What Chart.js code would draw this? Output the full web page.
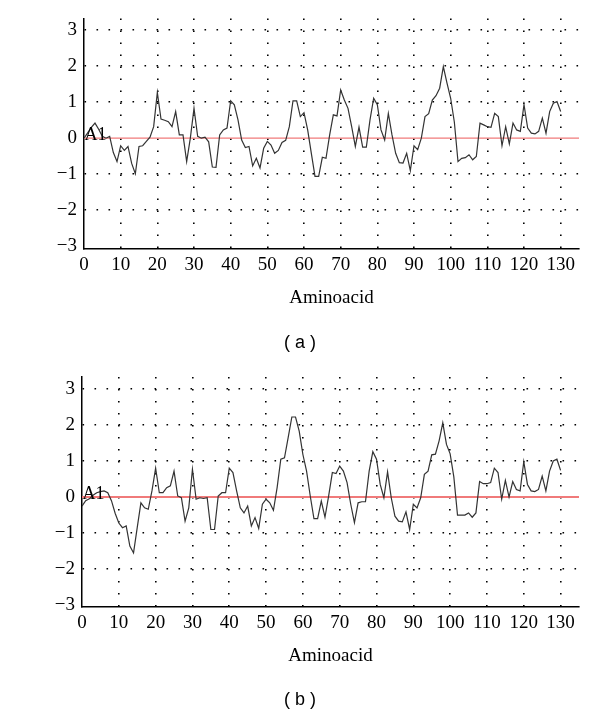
<!DOCTYPE html>
<html>
<head>
<meta charset="utf-8">
<script src="https://cdn.jsdelivr.net/npm/chart.js@4.4.1/dist/chart.umd.min.js"></script>
<style>
  html, body { margin: 0; padding: 0; background: #fff; }
  #page { position: relative; width: 600px; height: 717px; overflow: hidden; }
  .panel { position: absolute; left: 0; width: 600px; }
  .cap { position: absolute; left: 0; width: 600px; text-align: center;
         font-family: "Liberation Sans", Arial, sans-serif; font-size: 18px; color: #000; }
</style>
</head>
<body>
<div id="page">
  <div class="panel" style="top:0;height:360px;"><canvas id="cA" width="600" height="360"></canvas></div>
  <div class="panel" style="top:358px;height:359px;"><canvas id="cB" width="600" height="359"></canvas></div>
  <div class="cap" style="top:332px;">( a )</div>
  <div class="cap" style="top:689px;">( b )</div>
</div>
<script>
// ---- data ----
const residues = Array.from({length: 131}, (_, i) => i);
const xTicks = [0, 10, 20, 30, 40, 50, 60, 70, 80, 90, 100, 110, 120, 130];
const yTicks = [-3, -2, -1, 0, 1, 2, 3];
const xTitle = "Aminoacid";
const seriesLabel = "A1";

const hydroA = [
  0.0, 0.15, 0.3, 0.42, 0.25, 0.05, 0.0, 0.05, -0.4, -0.65,
  -0.21, -0.34, -0.23, -0.7, -0.99, -0.23, -0.21, -0.09, 0.03, 0.32,
  1.27, 0.53, 0.5, 0.46, 0.32, 0.74, 0.09, 0.09, -0.65, 0.0,
  0.83, 0.05, 0.0, 0.03, -0.1, -0.8, -0.81, 0.09, 0.23, 0.28,
  1.04, 0.93, 0.51, -0.05, -0.26, -0.23, -0.77, -0.56, -0.83, -0.28,
  -0.09, -0.19, -0.42, -0.34, -0.12, -0.06, 0.32, 1.04, 1.04, 0.6,
  0.71, 0.23, -0.42, -1.06, -1.06, -0.53, -0.56, 0.09, 0.65, 0.62,
  1.34, 1.06, 0.83, 0.32, -0.23, 0.31, -0.25, -0.25, 0.51, 1.11,
  0.93, 0.23, -0.05, 0.69, 0.09, -0.42, -0.68, -0.69, -0.42, -0.9,
  -0.21, -0.32, 0.0, 0.6, 0.68, 1.06, 1.18, 1.39, 1.99, 1.53,
  1.11, 0.45, -0.65, -0.56, -0.54, -0.46, -0.6, -0.51, 0.42, 0.37,
  0.32, 0.3, 0.69, 0.6, -0.21, 0.32, -0.16, 0.42, 0.23, 0.19,
  0.93, 0.28, 0.14, 0.12, 0.19, 0.56, 0.14, 0.74, 0.97, 1.02,
  0.74
];

const hydroB = [
  -0.25, -0.1, -0.05, 0.05, 0.12, 0.15, 0.17, 0.12, -0.1, -0.45,
  -0.72, -0.85, -0.8, -1.36, -1.55, -0.85, -0.16, -0.3, -0.34, 0.17,
  0.8, 0.12, 0.12, 0.26, 0.31, 0.72, 0.03, -0.02, -0.67, -0.3,
  0.77, -0.06, -0.02, -0.04, -0.02, -0.9, -0.9, 0.03, 0.12, 0.12,
  0.8, 0.68, 0.17, -0.3, -0.44, -0.25, -0.8, -0.57, -0.87, -0.2,
  -0.06, -0.16, -0.37, 0.26, 1.05, 1.09, 1.65, 2.22, 2.22, 1.83,
  1.18, 0.72, 0.03, -0.6, -0.6, -0.11, -0.56, 0.03, 0.68, 0.65,
  0.86, 0.72, 0.4, -0.2, -0.71, -0.16, -0.13, -0.13, 0.72, 1.26,
  1.05, 0.35, -0.02, 0.7, -0.02, -0.53, -0.67, -0.69, -0.41, -0.9,
  -0.2, -0.3, -0.02, 0.63, 0.72, 1.17, 1.19, 1.56, 2.06, 1.46,
  1.2, 0.56, -0.5, -0.5, -0.5, -0.44, -0.56, -0.44, 0.43, 0.37,
  0.37, 0.4, 0.8, 0.68, -0.06, 0.46, 0.0, 0.43, 0.21, 0.17,
  0.98, 0.35, 0.17, 0.15, 0.21, 0.58, 0.17, 0.72, 1.0, 1.05,
  0.74
];

// ---- chart builder ----
const serif = "'Liberation Serif', 'Times New Roman', serif";

const zeroLinePlugin = {
  id: 'zeroLine',
  beforeDatasetsDraw(chart, args, opts) {
    const {ctx, chartArea, scales} = chart;
    const y = scales.y.getPixelForValue(0);
    ctx.save();
    ctx.strokeStyle = opts.color;
    ctx.lineWidth = opts.width;
    ctx.beginPath();
    ctx.moveTo(chartArea.left, y);
    ctx.lineTo(chartArea.right, y);
    ctx.stroke();
    ctx.restore();
  },
  afterDatasetsDraw(chart, args, opts) {
    const {ctx, scales} = chart;
    const y = scales.y.getPixelForValue(0);
    const x = scales.x.getPixelForValue(0);
    ctx.save();
    ctx.fillStyle = '#000';
    ctx.font = "18px " + serif;
    ctx.textAlign = 'left';
    ctx.textBaseline = 'alphabetic';
    ctx.fillText(opts.label, x + 0.5, y + 1.8);
    ctx.restore();
  }
};

function makeChart(id, values, cfg) {
  return new Chart(document.getElementById(id), {
    type: 'line',
    data: {
      labels: residues,
      datasets: [{
        data: values,
        borderColor: '#333333',
        borderWidth: 1.2,
        pointRadius: 0,
        tension: 0,
        fill: false
      }]
    },
    plugins: [zeroLinePlugin],
    options: {
      responsive: false,
      animation: false,
      events: [],
      layout: { padding: { left: 0, top: cfg.top, right: 21, bottom: cfg.bottomPad } },
      plugins: {
        legend: { display: false },
        tooltip: { enabled: false },
        zeroLine: { color: '#f07a7a', width: cfg.redWidth, label: seriesLabel }
      },
      scales: {
        x: {
          type: 'linear',
          min: 0,
          max: 135,
          afterBuildTicks: s => { s.ticks = xTicks.map(v => ({ value: v })); },
          afterFit: s => { s.height = cfg.xAxisH; },
          ticks: {
            autoSkip: false,
            maxRotation: 0,
            padding: 5,
            color: '#000',
            font: { family: serif, size: 19 },
            callback: v => String(v)
          },
          grid: {
            drawTicks: false,
            lineWidth: 1.6,
            color: c => (c.tick && c.tick.value === 0) ? 'rgba(0,0,0,0)' : '#000'
          },
          border: { display: true, color: '#000', width: 1.5, dash: [1.6, 10.4] },
          title: {
            display: true,
            text: xTitle,
            color: '#000',
            padding: 0,
            font: { family: serif, size: 19 }
          }
        },
        y: {
          type: 'linear',
          min: cfg.ymin,
          max: cfg.ymax,
          afterBuildTicks: s => { s.ticks = yTicks.map(v => ({ value: v })); },
          afterFit: s => { s.width = cfg.yAxisW; },
          ticks: {
            padding: 7,
            color: '#000',
            font: { family: serif, size: 19 },
            callback: v => (v < 0 ? '\u2212' + Math.abs(v) : String(v))
          },
          grid: {
            drawTicks: false,
            lineWidth: 1.6,
            color: c => (c.tick && (c.tick.value === 0 || c.tick.value === -3)) ? 'rgba(0,0,0,0)' : '#000'
          },
          border: { display: true, color: '#000', width: 1.5, dash: [1.6, 10.4] }
        }
      }
    }
  });
}

makeChart('cA', hydroA, { top: 18, bottomPad: 51, xAxisH: 60, yAxisW: 84, ymin: -3.08, ymax: 3.33, redWidth: 1.2 });
makeChart('cB', hydroB, { top: 19, bottomPad: 50, xAxisH: 60, yAxisW: 82, ymin: -3.05, ymax: 3.33, redWidth: 2 });
</script>
</body>
</html>
